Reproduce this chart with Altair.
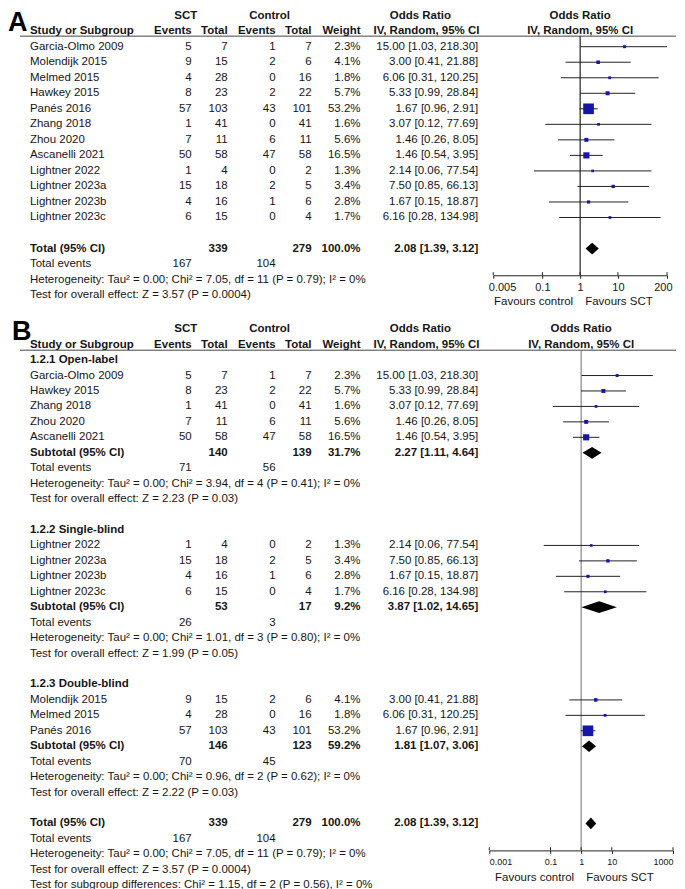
import altair as alt
import pandas as pd

# ---------------- data ----------------
study = ["Garcia-Olmo 2009", "Molendijk 2015", "Melmed 2015", "Hawkey 2015", "Panés 2016",
         "Zhang 2018", "Zhou 2020", "Ascanelli 2021", "Lightner 2022", "Lightner 2023a",
         "Lightner 2023b", "Lightner 2023c"]
sct_events = [5, 9, 4, 8, 57, 1, 7, 50, 1, 15, 4, 6]
sct_total = [7, 15, 28, 23, 103, 41, 11, 58, 4, 18, 16, 15]
ctrl_events = [1, 2, 0, 2, 43, 0, 6, 47, 0, 2, 1, 0]
ctrl_total = [7, 6, 16, 22, 101, 41, 11, 58, 2, 5, 6, 4]
weight = [2.3, 4.1, 1.8, 5.7, 53.2, 1.6, 5.6, 16.5, 1.3, 3.4, 2.8, 1.7]
or_est = [15.00, 3.00, 6.06, 5.33, 1.67, 3.07, 1.46, 1.46, 2.14, 7.50, 1.67, 6.16]
or_lo = [1.03, 0.41, 0.31, 0.99, 0.96, 0.12, 0.26, 0.54, 0.06, 0.85, 0.15, 0.28]
or_hi = [218.30, 21.88, 120.25, 28.84, 2.91, 77.69, 8.05, 3.95, 77.54, 66.13, 18.87, 134.98]

subgroup_names = ["1.2.1 Open-label", "1.2.2 Single-blind", "1.2.3 Double-blind"]
subgroup_members = [
    ["Garcia-Olmo 2009", "Hawkey 2015", "Zhang 2018", "Zhou 2020", "Ascanelli 2021"],
    ["Lightner 2022", "Lightner 2023a", "Lightner 2023b", "Lightner 2023c"],
    ["Molendijk 2015", "Melmed 2015", "Panés 2016"],
]
sub_sct_total = [140, 53, 146]
sub_ctrl_total = [139, 17, 123]
sub_weight = [31.7, 9.2, 59.2]
sub_est = [2.27, 3.87, 1.81]
sub_lo = [1.11, 1.02, 1.07]
sub_hi = [4.64, 14.65, 3.06]
sub_sct_events = [71, 26, 70]
sub_ctrl_events = [56, 3, 45]
sub_het = [
    "Heterogeneity: Tau² = 0.00; Chi² = 3.94, df = 4 (P = 0.41); I² = 0%",
    "Heterogeneity: Tau² = 0.00; Chi² = 1.01, df = 3 (P = 0.80); I² = 0%",
    "Heterogeneity: Tau² = 0.00; Chi² = 0.96, df = 2 (P = 0.62); I² = 0%",
]
sub_test = [
    "Test for overall effect: Z = 2.23 (P = 0.03)",
    "Test for overall effect: Z = 1.99 (P = 0.05)",
    "Test for overall effect: Z = 2.22 (P = 0.03)",
]

total_sct, total_ctrl, total_weight = 339, 279, 100.0
total_est, total_lo, total_hi = 2.08, 1.39, 3.12
total_sct_events, total_ctrl_events = 167, 104
total_het = "Heterogeneity: Tau² = 0.00; Chi² = 7.05, df = 11 (P = 0.79); I² = 0%"
total_test = "Test for overall effect: Z = 3.57 (P = 0.0004)"
subgroup_diff = "Test for subgroup differences: Chi² = 1.15, df = 2 (P = 0.56), I² = 0%"

header_top = ["SCT", "Control", "Odds Ratio"]
header_cols = ["Study or Subgroup", "Events", "Total", "Events", "Total", "Weight", "IV, Random, 95% CI"]
favours = ["Favours control", "Favours SCT"]
ticks_A = [0.005, 0.1, 1, 10, 200]
ticks_B = [0.001, 0.1, 1, 10, 1000]

# ---------------- style / layout ----------------
FONT = "Liberation Sans, Arial"
FS = 11.5
TXT = "#161616"
W = 669
COLX = {
    "name": (22, "left"), "sev": (184, "right"), "stot": (220, "right"),
    "cev": (268, "right"), "ctot": (304, "right"), "w": (353, "right"),
    "or": (471, "right"), "h_sct": (178, "center"), "h_ctrl": (262, "center"),
    "h_or": (413, "center"), "h_iv": (366, "left"),
}


def fmt_or(e, lo, hi):
    return f"{e:.2f} [{lo:.2f}, {hi:.2f}]"


def header_cells(cells):
    for col, t in zip(["h_sct", "h_ctrl", "h_or"], header_top):
        cells.append(dict(row=0, col=col, text=t, b="b"))
    for col, t in zip(["name", "sev", "stot", "cev", "ctot", "w", "h_iv"], header_cols):
        cells.append(dict(row=1, col=col, text=t, b="b"))


def study_cells(cells, pts, r, i):
    cells += [dict(row=r, col="name", text=study[i], b="n"),
              dict(row=r, col="sev", text=str(sct_events[i]), b="n"),
              dict(row=r, col="stot", text=str(sct_total[i]), b="n"),
              dict(row=r, col="cev", text=str(ctrl_events[i]), b="n"),
              dict(row=r, col="ctot", text=str(ctrl_total[i]), b="n"),
              dict(row=r, col="w", text=f"{weight[i]:.1f}%", b="n"),
              dict(row=r, col="or", text=fmt_or(or_est[i], or_lo[i], or_hi[i]), b="n")]
    pts.append(dict(row=r, est=or_est[i], lo=or_lo[i], hi=or_hi[i], w=weight[i]))


def total_cells(cells, dia, r, label, st, ct, w, e, lo, hi, sev, cev, het, test):
    cells += [dict(row=r, col="name", text=label, b="b"),
              dict(row=r, col="stot", text=str(st), b="b"),
              dict(row=r, col="ctot", text=str(ct), b="b"),
              dict(row=r, col="w", text=f"{w:.1f}%", b="b"),
              dict(row=r, col="or", text=fmt_or(e, lo, hi), b="b"),
              dict(row=r + 1, col="name", text="Total events", b="n"),
              dict(row=r + 1, col="sev", text=str(sev), b="n"),
              dict(row=r + 1, col="cev", text=str(cev), b="n"),
              dict(row=r + 2, col="name", text=het, b="n"),
              dict(row=r + 3, col="name", text=test, b="n")]
    h = 0.38
    dia += [dict(d=r, x=lo, ya=r, yb=r), dict(d=r, x=e, ya=r - h, yb=r + h), dict(d=r, x=hi, ya=r, yb=r)]


def build_panel(letter, letter_xy, cells, pts, dia, ys, xs, ax, ticks, hline_row, axis_row, fav_row,
                vcolor, height):
    cdf = pd.DataFrame(cells)
    layers = []
    # header line
    layers.append(alt.Chart(pd.DataFrame({"r": [hline_row]})).mark_rule(color="#444", strokeWidth=1)
                  .encode(x=alt.value(12), x2=alt.value(W), y=alt.Y("r:Q", scale=ys, axis=None)))
    # null line
    layers.append(alt.Chart(pd.DataFrame({"x": [1], "r1": [hline_row], "r2": [axis_row]}))
                  .mark_rule(color=vcolor, strokeWidth=1.2)
                  .encode(x=alt.X("x:Q", scale=xs, axis=ax), y=alt.Y("r1:Q", scale=ys, axis=None), y2="r2:Q"))
    # upward half of the axis ticks
    tdf = pd.DataFrame({"t": ticks, "r1": [axis_row - 0.2] * len(ticks), "r2": [axis_row] * len(ticks)})
    layers.append(alt.Chart(tdf).mark_rule(color="#222", strokeWidth=1)
                  .encode(x=alt.X("t:Q", scale=xs, axis=ax), y=alt.Y("r1:Q", scale=ys, axis=None), y2="r2:Q"))
    pdf = pd.DataFrame(pts)
    layers.append(alt.Chart(pdf).mark_rule(color="#222", strokeWidth=1)
                  .encode(x=alt.X("lo:Q", scale=xs, axis=ax), x2="hi:Q",
                          y=alt.Y("row:Q", scale=ys, axis=None)))
    layers.append(alt.Chart(pdf).mark_square(filled=True, color="#1515a6", opacity=1)
                  .encode(x=alt.X("est:Q", scale=xs, axis=ax), y=alt.Y("row:Q", scale=ys, axis=None),
                          size=alt.Size("w:Q", scale=alt.Scale(domain=[0, 53.2], range=[4, 114]), legend=None)))
    layers.append(alt.Chart(pd.DataFrame(dia)).mark_area(color="black", interpolate="linear", opacity=1)
                  .encode(x=alt.X("x:Q", scale=xs, axis=ax),
                          y=alt.Y("ya:Q", scale=ys, axis=None, stack=None), y2="yb:Q", detail="d:N"))
    # forest header
    fh = pd.DataFrame({"x": [1, 1], "row": [0, 1], "text": [header_top[2], header_cols[6]]})
    layers.append(alt.Chart(fh).mark_text(align="center", baseline="middle", font=FONT, fontSize=FS,
                                          fontWeight="bold", color=TXT)
                  .encode(x=alt.X("x:Q", scale=xs, axis=ax), y=alt.Y("row:Q", scale=ys, axis=None), text="text:N"))
    # favours
    fv = pd.DataFrame({"x": [1], "row": [fav_row], "t1": [favours[0]], "t2": [favours[1]]})
    layers.append(alt.Chart(fv).mark_text(align="right", baseline="middle", dx=-7, font=FONT, fontSize=FS, color=TXT)
                  .encode(x=alt.X("x:Q", scale=xs, axis=ax), y=alt.Y("row:Q", scale=ys, axis=None), text="t1:N"))
    layers.append(alt.Chart(fv).mark_text(align="left", baseline="middle", dx=5, font=FONT, fontSize=FS, color=TXT)
                  .encode(x=alt.X("x:Q", scale=xs, axis=ax), y=alt.Y("row:Q", scale=ys, axis=None), text="t2:N"))
    # table text
    for (col, b), sub in cdf.groupby(["col", "b"]):
        x, align = COLX[col]
        layers.append(alt.Chart(sub).mark_text(align=align, baseline="middle", font=FONT, fontSize=FS,
                                               fontWeight="bold" if b == "b" else "normal", color=TXT)
                      .encode(x=alt.value(x), y=alt.Y("row:Q", scale=ys, axis=None), text="text:N"))
    # panel letter
    layers.append(alt.Chart(pd.DataFrame({"t": [letter]})).mark_text(
        align="left", baseline="top", font=FONT, fontSize=27, fontWeight="bold", color="black")
        .encode(x=alt.value(letter_xy[0]), y=alt.value(letter_xy[1]), text="t:N"))
    return alt.layer(*layers).properties(width=W, height=height)


# ---------------- panel A ----------------
cellsA, ptsA, diaA = [], [], []
header_cells(cellsA)
for i in range(len(study)):
    study_cells(cellsA, ptsA, 2 + i, i)
total_cells(cellsA, diaA, 15, "Total (95% CI)", total_sct, total_ctrl, total_weight,
            total_est, total_lo, total_hi, total_sct_events, total_ctrl_events, total_het, total_test)

HA = 266
ysA = alt.Scale(domain=[0, 1], range=[6, 6 + 15.55], zero=False, nice=False)
xsA = alt.Scale(type="log", domain=[0.005, 200], range=[486, 660], clamp=True, nice=False)
axA = alt.Axis(values=ticks_A, format="~g", title=None, grid=False, tickSize=3, tickColor="#222",
               domainColor="#222", labelColor=TXT, labelFont=FONT, labelFontSize=11, labelFlush=True,
               labelFlushOffset=5, labelPadding=3, labelOverlap=False)
panelA = build_panel("A", (0, 0), cellsA, ptsA, diaA, ysA, xsA, axA, ticks_A, 1.32, 16.72, 18.46, "#222", HA)

# ---------------- panel B ----------------
cellsB, ptsB, diaB = [], [], []
header_cells(cellsB)
r = 2
for g in range(3):
    cellsB.append(dict(row=r, col="name", text=subgroup_names[g], b="b"))
    r += 1
    for s in subgroup_members[g]:
        study_cells(cellsB, ptsB, r, study.index(s))
        r += 1
    total_cells(cellsB, diaB, r, "Subtotal (95% CI)", sub_sct_total[g], sub_ctrl_total[g], sub_weight[g],
                sub_est[g], sub_lo[g], sub_hi[g], sub_sct_events[g], sub_ctrl_events[g], sub_het[g], sub_test[g])
    r += 5
total_cells(cellsB, diaB, r, "Total (95% CI)", total_sct, total_ctrl, total_weight,
            total_est, total_lo, total_hi, total_sct_events, total_ctrl_events, total_het, total_test)
cellsB.append(dict(row=r + 4, col="name", text=subgroup_diff, b="n"))

HB = 576
ysB = alt.Scale(domain=[0, 1], range=[54, 54 + 15.47], zero=False, nice=False)
xsB = alt.Scale(type="log", domain=[0.001, 1000], range=[482, 666], nice=False)
axB = alt.Axis(values=ticks_B, format="~g", title=None, grid=False, tickSize=3, tickColor="#222",
               domainColor="#222", labelColor=TXT, labelFont=FONT, labelFontSize=9, labelFlush=True,
               labelPadding=4, labelOverlap=False)
panelB = build_panel("B", (4, 44), cellsB, ptsB, diaB, ysB, xsB, axB, ticks_B, 1.36, 33.74, 35.55, "#888", HB)

chart = alt.vconcat(panelA, panelB, spacing=0, bounds="flush").properties(padding=0).configure_view(stroke=None)
chart.save("out.html", embed_options={"renderer": "svg", "actions": False})
